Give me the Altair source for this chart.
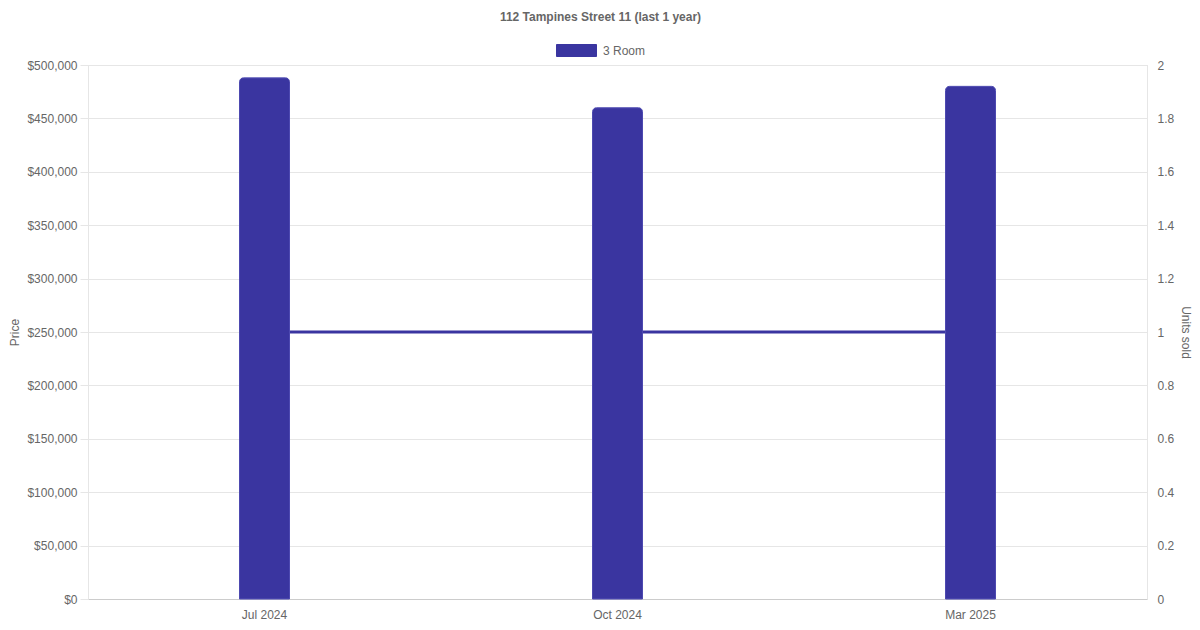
import altair as alt
import pandas as pd

months = ["Jul 2024", "Oct 2024", "Mar 2025"]
prices = [488000, 460000, 480000]
units = [1, 1, 1]
series = ["3 Room", "3 Room", "3 Room"]

df = pd.DataFrame({"month": months, "price": prices, "units": units, "type": series})

COLOR = "#3a35a0"
FONT = "Liberation Sans"
TXT = "#666666"
GRID = "#e6e6e6"

x = alt.X(
    "month:N",
    sort=months,
    scale=alt.Scale(paddingInner=0, paddingOuter=0),
    axis=alt.Axis(
        title=None, labelAngle=0, ticks=False, grid=False, labelPadding=10,
        domainColor="#cccccc", labelColor=TXT, labelFontSize=12, labelFont=FONT,
    ),
)

bars = alt.Chart(df).mark_bar(
    size=50, cornerRadiusTopLeft=4, cornerRadiusTopRight=4,
    stroke="#4d49b0", strokeWidth=1,
).encode(
    x=x,
    y=alt.Y(
        "price:Q",
        scale=alt.Scale(domain=[0, 500000], nice=False),
        axis=alt.Axis(
            title="Price", values=list(range(0, 500001, 50000)), format="$,.0f",
            grid=True, gridColor=GRID, tickColor=GRID, tickSize=8, labelPadding=3,
            domainColor=GRID, labelColor=TXT, labelFontSize=12, labelFont=FONT,
            titleColor=TXT, titleFont=FONT, titleFontSize=12, titleFontWeight="normal",
            titlePadding=5,
        ),
    ),
    color=alt.Color(
        "type:N",
        scale=alt.Scale(domain=["3 Room"], range=[COLOR]),
        legend=alt.Legend(
            title=None, orient="none", legendX=468, legendY=-35, padding=0,
            symbolType="M-1,-0.3L1,-0.3L1,0.3L-1,0.3Z", symbolSize=1600,
            symbolStrokeColor=COLOR, symbolStrokeWidth=1, symbolOpacity=1,
            labelColor=TXT, labelFontSize=12, labelFont=FONT, labelOffset=6,
        ),
    ),
)

line = alt.Chart(df).mark_line(color=COLOR, strokeWidth=3).encode(
    x=x,
    y=alt.Y(
        "units:Q",
        scale=alt.Scale(domain=[0, 2], nice=False),
        axis=alt.Axis(
            title="Units sold", orient="right", values=[i / 5 for i in range(11)],
            format=".1~f", grid=False, ticks=False, labelPadding=10,
            domainColor=GRID, labelColor=TXT, labelFontSize=12, labelFont=FONT,
            titleColor=TXT, titleFont=FONT, titleFontSize=12, titleFontWeight="normal",
            titlePadding=5,
        ),
    ),
)

chart = (
    alt.layer(line, bars)
    .resolve_scale(y="independent")
    .properties(
        width=1059,
        height=534,
        title=alt.TitleParams(
            "112 Tampines Street 11 (last 1 year)",
            font=FONT, fontSize=12, fontWeight="bold", color=TXT,
            anchor="middle", dx=-17, offset=6,
        ),
        padding={"left": 80, "top": 57, "right": 45, "bottom": 23},
        autosize=alt.AutoSizeParams(type="none"),
    )
    .configure_view(stroke=None)
    .configure(background="white")
)

chart.save("out.html", embed_options={"renderer": "svg", "actions": False})
